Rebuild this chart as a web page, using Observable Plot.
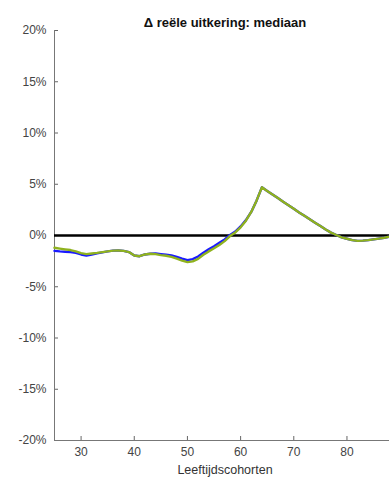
<!DOCTYPE html>
<html>
<head>
<meta charset="utf-8">
<script src="https://cdn.jsdelivr.net/npm/d3@7"></script>
<script src="https://cdn.jsdelivr.net/npm/@observablehq/plot@0.6"></script>
<style>
  html, body { margin: 0; padding: 0; background: #fff; }
  #chart svg { display: block; }
</style>
</head>
<body>
<div id="chart"></div>
<script>
// Age cohorts (years)
const ages = [25,26,27,28,29,30,31,32,33,34,35,36,37,38,39,40,41,42,43,44,45,46,47,48,49,50,
  51,52,53,54,55,56,57,58,59,60,61,62,63,64,65,66,67,68,69,70,71,72,73,74,75,76,77,78,79,80,
  81,82,83,84,85,86,87,88];

// Change in real benefit, median (%), first variant (blue)
const seriesBlue = [-1.50,-1.55,-1.58,-1.62,-1.70,-1.85,-1.95,-1.85,-1.75,-1.65,-1.55,-1.48,-1.47,-1.50,-1.62,-1.95,-2.02,-1.85,-1.78,-1.75,
  -1.82,-1.88,-1.95,-2.08,-2.25,-2.40,-2.30,-2.05,-1.68,-1.35,-1.05,-0.72,-0.38,0.05,0.38,0.88,1.50,2.30,3.40,4.70,
  4.35,4.00,3.65,3.30,2.95,2.60,2.25,1.92,1.58,1.25,0.92,0.58,0.28,0.05,-0.18,-0.32,-0.45,-0.52,-0.50,-0.45,-0.38,-0.30,-0.22,-0.12];

// Change in real benefit, median (%), second variant (green)
const seriesGreen = [-1.20,-1.28,-1.35,-1.42,-1.55,-1.72,-1.82,-1.76,-1.70,-1.62,-1.55,-1.48,-1.47,-1.50,-1.62,-1.95,-2.02,-1.85,-1.78,-1.82,
  -1.92,-1.98,-2.08,-2.25,-2.45,-2.60,-2.52,-2.28,-1.88,-1.55,-1.25,-0.92,-0.55,-0.05,0.30,0.80,1.45,2.30,3.40,4.70,
  4.35,4.00,3.65,3.30,2.95,2.60,2.25,1.92,1.58,1.25,0.92,0.58,0.28,0.05,-0.18,-0.32,-0.45,-0.52,-0.50,-0.45,-0.38,-0.30,-0.22,-0.12];

const yTicks = [-20,-15,-10,-5,0,5,10,15,20];
const xTicks = [30,40,50,60,70,80];
const title = "Δ reële uitkering: mediaan";
const xLabel = "Leeftijdscohorten";

const blueData = ages.map((a, i) => ({age: a, v: seriesBlue[i]}));
const greenData = ages.map((a, i) => ({age: a, v: seriesGreen[i]}));

const W = 389, H = 481, mL = 54, mR = 0, mT = 30, mB = 41;
const tickLen = 4;

const chart = Plot.plot({
  width: W,
  height: H,
  marginLeft: mL,
  marginRight: mR,
  marginTop: mT,
  marginBottom: mB,
  style: {fontFamily: "Liberation Sans, Arial, sans-serif", fontSize: "12px", color: "#444", background: "#fff"},
  x: {domain: [25, 88]},
  y: {domain: [-20, 20]},
  marks: [
    Plot.axisY({ticks: yTicks, tickFormat: d => d + "%", tickSize: 0, tickPadding: 8, label: null, fontSize: 12, fill: "#444"}),
    // inward tick marks along the left axis
    Plot.tickY(yTicks, {y: d => d, stroke: "#666", insetRight: W - mL - mR - tickLen}),
    Plot.axisX({ticks: xTicks, tickSize: 0, tickPadding: 7, label: null, fontSize: 12, fill: "#444"}),
    // inward tick marks along the bottom axis
    Plot.tickX(xTicks, {x: d => d, stroke: "#666", insetTop: H - mT - mB - tickLen}),
    Plot.ruleX([25], {stroke: "#777", strokeWidth: 1}),
    Plot.ruleY([-20], {stroke: "#777", strokeWidth: 1}),
    Plot.ruleY([0], {stroke: "#000", strokeWidth: 2.5}),
    Plot.line(blueData, {x: "age", y: "v", stroke: "#1a1aff", strokeWidth: 2.4}),
    Plot.line(greenData, {x: "age", y: "v", stroke: "#8fb21e", strokeWidth: 2.4}),
    Plot.text([title], {frameAnchor: "top", dy: -13, dx: 3, fontWeight: "bold", fontSize: 13, fill: "#111"}),
    Plot.text([xLabel], {frameAnchor: "bottom", dy: 33, dx: 3, fontSize: 12.5, fill: "#333"})
  ]
});
document.getElementById("chart").appendChild(chart);
</script>
</body>
</html>
